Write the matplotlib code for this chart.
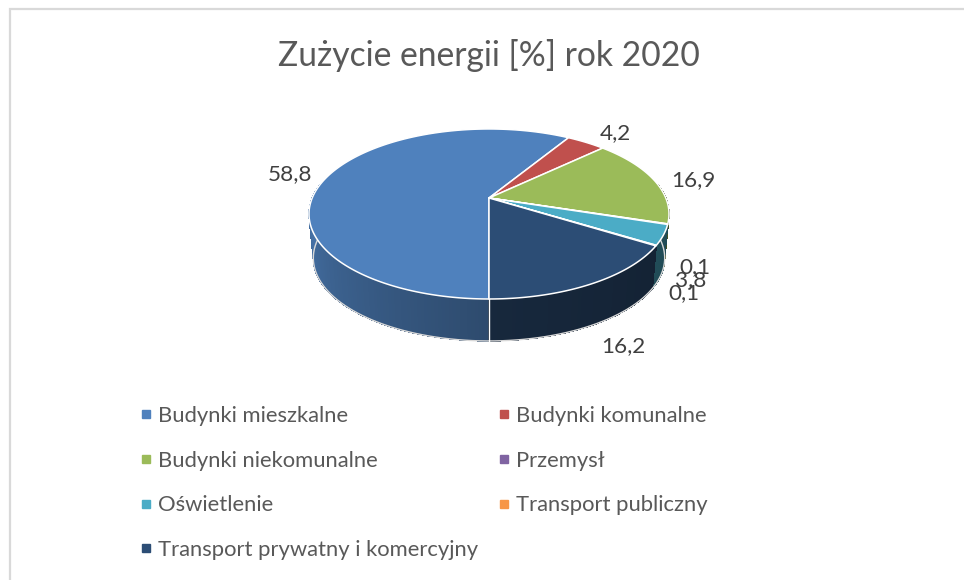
import numpy as np
import matplotlib
matplotlib.use("Agg")
import matplotlib.pyplot as plt
from matplotlib.collections import PolyCollection
from matplotlib.lines import Line2D
from matplotlib.colors import to_rgb

categories = ["Budynki mieszkalne", "Budynki komunalne", "Budynki niekomunalne", "Przemysł",
              "Oświetlenie", "Transport publiczny", "Transport prywatny i komercyjny"]
values = [58.8, 4.2, 16.9, 0.1, 3.8, 0.1, 16.2]
value_labels = ["58,8", "4,2", "16,9", "0,1", "3,8", "0,1", "16,2"]
colors = ["#4F81BD", "#C0504D", "#9BBB59", "#8064A2", "#4BACC6", "#F79646", "#2C4D75"]
title = "Zużycie energii [%] rok 2020"

# layout (figure pixels)
label_xy = [(290, 174), (615, 133), (693, 180), (695, 267), (691, 280), (684, 293), (623, 346)]
CX, CY, A, B, K = 489.0, 198.0, 176.8, 82.0, 0.188
CY2, S = 242.4, 0.976
START = 180.0
FONT = "Lato"

plt.rcParams["font.family"] = [FONT, "DejaVu Sans"]
fig = plt.figure(figsize=(9.64, 5.8), dpi=100)
ax = fig.add_axes([0, 0, 1, 1])
ax.set_xlim(0, 964)
ax.set_ylim(580, 0)
ax.axis("off")


def top(th):
    r = np.radians(th)
    w = 1 + K * np.cos(r)
    return CX + A * np.sin(r) / w, CY - B * np.cos(r) / w


def bottom(th):
    r = np.radians(th)
    w = 1 + K * np.cos(r)
    return CX + A * S * np.sin(r) / w, CY2 - B * S * np.cos(r) / w


def shade(th):
    th = th % 360
    if th >= 180:
        return np.interp(th, [180, 275], [0.58, 0.90])
    return np.interp(th, [85, 180], [0.40, 0.52])


fracs = np.array(values) / sum(values) * 360
edges = START + np.concatenate([[0], np.cumsum(fracs)])

# side wall (slivers under one degree take the neighbouring colour, as they are not visible)
polys, fc = [], []
for i, c in enumerate(colors):
    n = max(2, int(fracs[i]) + 2)
    ts = np.linspace(edges[i], edges[i + 1], n)
    base = np.array(to_rgb(c if fracs[i] >= 1 else colors[i + 1]))
    for t0, t1 in zip(ts[:-1], ts[1:]):
        m = (t0 + t1) / 2
        if 80 < m % 360 < 280:
            x0, y0 = top(t0); x1, y1 = top(t1)
            x2, y2 = bottom(t1); x3, y3 = bottom(t0)
            polys.append([(x0, y0), (x1, y1), (x2, y2), (x3, y3)])
            fc.append(tuple(base * shade(m)))
ax.add_collection(PolyCollection(polys, facecolors=fc, edgecolors=fc, linewidths=0.3,
                                 antialiased=False, zorder=2))

# outer rim of the wall
tb = np.linspace(80, 280, 200)
xb, yb = bottom(tb)
ax.plot(xb, yb, color="#D9D9D9", lw=1, zorder=3)

# seam on the wall at the front
x0, y0 = top(START)
x1, y1 = bottom(START)
ax.plot([x0, x1], [y0, y1], color="white", lw=1, zorder=3)

# top face
for i, c in enumerate(colors):
    ts = np.linspace(edges[i], edges[i + 1], max(2, int(fracs[i] * 2) + 2))
    x, y = top(ts)
    ax.fill(np.r_[CX, x], np.r_[CY, y], facecolor=c, edgecolor="white", lw=1.1,
            joinstyle="round", zorder=4)

for (x, y), t in zip(label_xy, value_labels):
    ax.text(x, y, t, ha="center", va="center", fontsize=16.2, color="#404040", zorder=5)

ax.text(489, 55, title, ha="center", va="center", fontsize=24.2, color="#595959")

# frame
ax.plot([9.5, 9.5, 964], [580, 9, 9], color="#D9D9D9", lw=1.6, solid_joinstyle="miter")

handles = [Line2D([], [], marker="s", ls="none", ms=6, color=c) for c in colors]
order = [0, 2, 4, 6, 1, 3, 5]
leg = ax.legend([handles[i] for i in order], [categories[i] for i in order], ncol=2,
                loc="upper left", bbox_to_anchor=(137 / 964, 1 - 406 / 580), frameon=False,
                fontsize=15.85, labelcolor="#595959", handlelength=0.8, handletextpad=0.15,
                columnspacing=0.78, labelspacing=1.12, borderaxespad=0, borderpad=0)

fig.savefig("out.png", dpi=100, facecolor="white")
